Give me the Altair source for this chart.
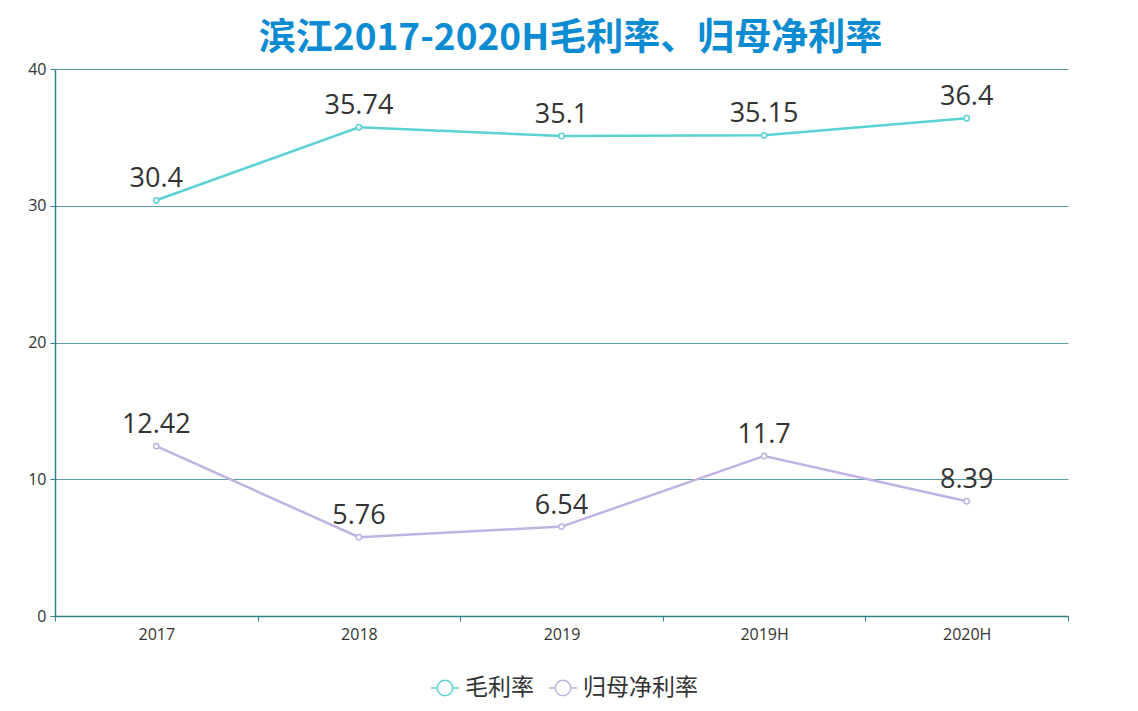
import altair as alt
import pandas as pd

categories = ["2017", "2018", "2019", "2019H", "2020H"]
gross_margin = [30.4, 35.74, 35.1, 35.15, 36.4]
net_margin = [12.42, 5.76, 6.54, 11.7, 8.39]
series_names = ["毛利率", "归母净利率"]
series_colors = ["#5ad2d6", "#c0b3e3"]

rows = []
for name, vals in zip(series_names, [gross_margin, net_margin]):
    for c, v in zip(categories, vals):
        rows.append({"year": c, "series": name, "value": v})
df = pd.DataFrame(rows)

FONT = "Open Sans, Noto Sans CJK SC, sans-serif"
TEAL = "#2f7f86"
GRID = "#5f9ea0"

sym = ("M0.55,0A0.55,0.55,0,1,1,-0.55,0A0.55,0.55,0,1,1,0.55,0Z "
       "M-1,0L-0.55,0M0.55,0L1,0")

x = alt.X("year:N", sort=categories,
          scale=alt.Scale(type="band", paddingInner=0, paddingOuter=0),
          bandPosition=0.5,
          axis=alt.Axis(title=None, labelAngle=0, tickBand="extent", grid=False,
                        domainColor=TEAL, domainWidth=1.5, tickColor=TEAL,
                        tickSize=5, labelFontSize=16, labelColor="#333",
                        labelFont=FONT, labelPadding=5))
y = alt.Y("value:Q", scale=alt.Scale(domain=[0, 40], nice=False),
          axis=alt.Axis(title=None, values=[0, 10, 20, 30, 40], grid=True,
                        gridColor=GRID, gridWidth=1, domainColor=TEAL,
                        domainWidth=1.5, tickColor=TEAL, tickSize=5,
                        labelFontSize=16, labelColor="#333", labelFont=FONT,
                        labelPadding=4))
color = alt.Color("series:N", sort=series_names,
                  scale=alt.Scale(domain=series_names, range=series_colors),
                  legend=alt.Legend(title=None, orient="none", direction="horizontal",
                                    legendX=375, legendY=604, symbolType=sym,
                                    symbolSize=784, symbolFillColor="white",
                                    symbolStrokeWidth=1.5, labelFontSize=23,
                                    labelColor="#333", labelFont=FONT,
                                    labelOffset=5, columnPadding=12))

base = alt.Chart(df)
lines = base.mark_line(strokeWidth=2.5).encode(x=x, y=y, color=color)
points = base.mark_point(filled=True, fill="white", size=28, strokeWidth=1.5, opacity=1).encode(
    x=x, y=y, stroke=alt.Stroke("series:N", scale=alt.Scale(domain=series_names, range=series_colors), legend=None))
labels = base.mark_text(fontSize=27, color="#333", font=FONT, dy=-13, baseline="alphabetic").encode(
    x=x, y=y, text=alt.Text("value:Q"))

chart = alt.layer(lines, points, labels).properties(
    width=1013, height=547,
    title=alt.TitleParams("滨江2017-2020H毛利率、归母净利率", fontSize=37, fontWeight="bold",
                          color="#0b8bd1", font="Noto Sans CJK SC", anchor="middle",
                          offset=3, dx=9),
    autosize=alt.AutoSizeParams(type="none"),
    padding={"left": 47, "top": 61, "right": 62, "bottom": 87},
).configure_view(stroke=None)

chart.save("out.html", embed_options={"renderer": "svg", "actions": False})
